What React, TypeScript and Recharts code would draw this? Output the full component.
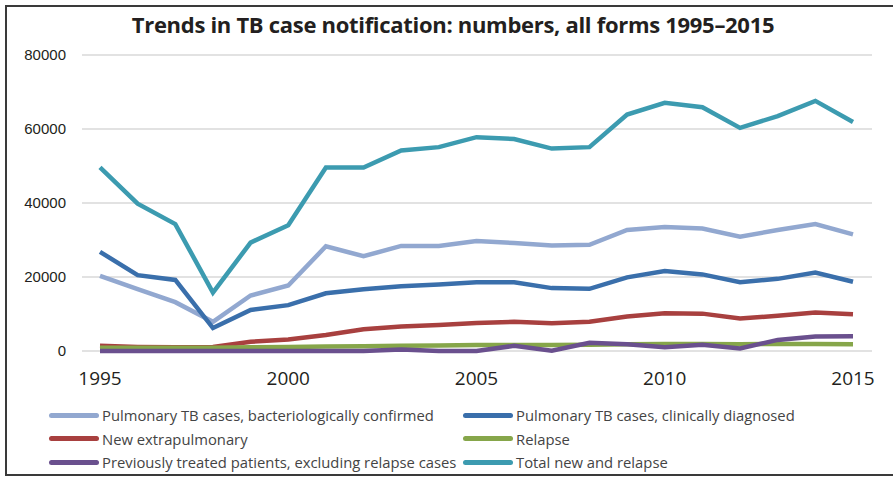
import { LineChart, Line, XAxis, YAxis, CartesianGrid, Legend } from 'recharts';

const years = [1995, 1996, 1997, 1998, 1999, 2000, 2001, 2002, 2003, 2004, 2005, 2006, 2007, 2008, 2009, 2010, 2011, 2012, 2013, 2014, 2015];

const bactConfirmed = [20300, 16700, 13200, 7900, 15000, 17700, 28300, 25600, 28400, 28400, 29700, 29200, 28500, 28700, 32700, 33500, 33100, 30900, 32700, 34300, 31500];
const clinDiagnosed = [26800, 20500, 19200, 6200, 11100, 12400, 15600, 16700, 17500, 18000, 18600, 18600, 17000, 16800, 19900, 21600, 20700, 18600, 19500, 21200, 18700];
const extrapulmonary = [1400, 1100, 1000, 1100, 2500, 3100, 4300, 5900, 6600, 7000, 7600, 7900, 7500, 7900, 9300, 10200, 10100, 8800, 9500, 10400, 9900];
const relapse = [900, 900, 900, 900, 1000, 1100, 1200, 1300, 1400, 1500, 1600, 1600, 1600, 1700, 1800, 1900, 1900, 1800, 1900, 1900, 1800];
const prevTreated = [0, 0, 0, 0, 0, 0, 0, 0, 400, 0, 0, 1400, 100, 2200, 1800, 1000, 1700, 700, 3000, 3900, 4000];
const totalNewRelapse = [49600, 39800, 34300, 15800, 29300, 34000, 49600, 49600, 54200, 55100, 57800, 57300, 54700, 55100, 63900, 67100, 65900, 60300, 63500, 67600, 61900];

const yTicks = [0, 20000, 40000, 60000, 80000];
const xTicks = [1995, 2000, 2005, 2010, 2015];

const series = [
  { key: 'bact', name: 'Pulmonary TB cases, bacteriologically confirmed', color: '#92a8d0', values: bactConfirmed },
  { key: 'clin', name: 'Pulmonary TB cases, clinically diagnosed', color: '#3a6fab', values: clinDiagnosed },
  { key: 'extra', name: 'New extrapulmonary', color: '#a8403f', values: extrapulmonary },
  { key: 'relapse', name: 'Relapse', color: '#86a64a', values: relapse },
  { key: 'prev', name: 'Previously treated patients, excluding relapse cases', color: '#6a508e', values: prevTreated },
  { key: 'total', name: 'Total new and relapse', color: '#3c9bb0', values: totalNewRelapse },
];

const data = years.map((year, i) => {
  const row: Record<string, number> = { year };
  series.forEach((s) => {
    row[s.key] = s.values[i];
  });
  return row;
});

const font = '"Open Sans", "Noto Sans", sans-serif';

function LegendBox() {
  return (
    <div style={{ position: 'relative', width: 893, height: 70, fontFamily: font, fontSize: 14.8, color: '#444' }}>
      {series.map((s, i) => {
        const col = i % 2;
        const row = Math.floor(i / 2);
        return (
          <div
            key={s.key}
            style={{
              position: 'absolute',
              left: col === 0 ? 49 : 463,
              top: row * 23.5,
              height: 20,
              display: 'flex',
              alignItems: 'center',
              whiteSpace: 'nowrap',
            }}
          >
            <span style={{ display: 'inline-block', width: 50, height: 5, borderRadius: 3, background: s.color, marginRight: 3 }} />
            <span>{s.name}</span>
          </div>
        );
      })}
    </div>
  );
}

export default function App() {
  return (
    <div style={{ position: 'fixed', left: 0, top: 0, width: 893, height: 484, background: '#fff', overflow: 'hidden' }}>
      <div
        style={{
          position: 'absolute',
          left: 5,
          top: 5,
          width: 920,
          height: 471,
          border: '2px solid #3a3a3a',
          boxSizing: 'border-box',
        }}
      />
      <div
        style={{
          position: 'absolute',
          left: 0,
          top: 9,
          width: 906,
          textAlign: 'center',
          fontFamily: font,
          fontWeight: 700,
          fontSize: 22,
          color: '#231f20',
          letterSpacing: -0.3,
        }}
      >
        Trends in TB case notification: numbers, all forms 1995–2015
      </div>
      <div style={{ position: 'absolute', left: 0, top: 0 }}>
        <LineChart width={893} height={484} data={data} margin={{ top: 55, right: 21, left: 22, bottom: 23 }}>
          <CartesianGrid horizontal vertical={false} stroke="#d9d9d9" strokeWidth={1.5} />
          <XAxis
            dataKey="year"
            type="number"
            domain={[1995, 2015]}
            ticks={xTicks}
            padding={{ left: 18, right: 19 }}
            axisLine={false}
            tickLine={false}
            tickMargin={15}
            height={40}
            tick={{ fill: '#231f20', fontSize: 19, fontFamily: font }}
          />
          <YAxis
            domain={[0, 80000]}
            ticks={yTicks}
            axisLine={false}
            tickLine={false}
            tickMargin={10}
            width={60}
            tick={{ fill: '#231f20', fontSize: 15, fontFamily: '"Liberation Sans", Arial, sans-serif' }}
          />
          {series.map((s) => (
            <Line
              key={s.key}
              dataKey={s.key}
              name={s.name}
              type="linear"
              stroke={s.color}
              strokeWidth={4.5}
              dot={false}
              isAnimationActive={false}
            />
          ))}
          <Legend
            content={() => <LegendBox />}
            wrapperStyle={{ position: 'absolute', left: 0, top: 405, width: 893, height: 70 }}
          />
        </LineChart>
      </div>
    </div>
  );
}
